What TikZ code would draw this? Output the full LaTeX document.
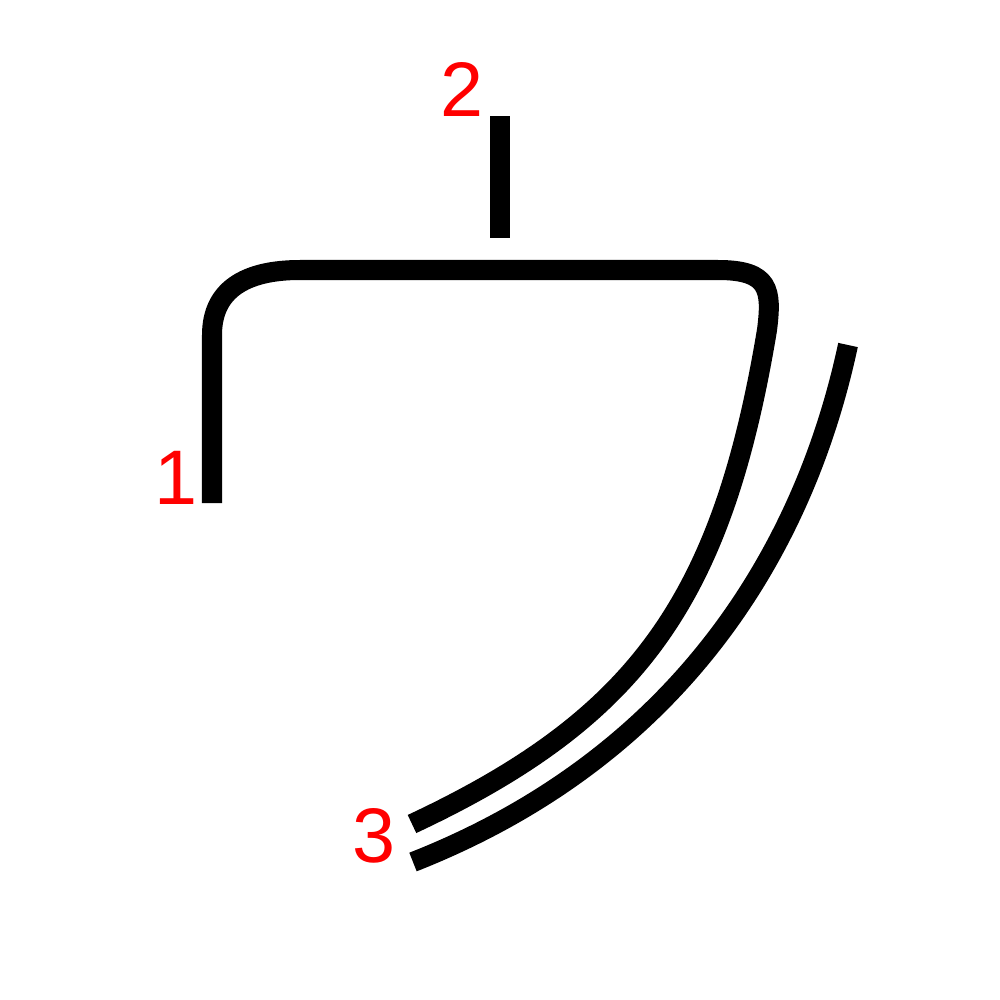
\documentclass[tikz,border=0pt]{standalone}
\usepackage{fontspec}
\setmainfont{Liberation Sans}
\begin{document}
\begin{tikzpicture}[x=0.01cm,y=-0.01cm,
  strokeline/.style={draw=black,line width=0.2cm,line cap=butt,line join=round},
  numlabel/.style={text=red,font=\fontsize{22}{22}\selectfont,inner sep=0pt}]
\useasboundingbox[fill=white] (0,0) rectangle (1000,1000);
% stroke 1
\draw[strokeline] (212,503) -- (212,335)
  .. controls (212,290) and (245,270) .. (300,270)
  -- (718,270)
  .. controls (770,270) and (772,290) .. (767,330)
  .. controls (722,600) and (638,718) .. (412,824);
% stroke 2
\draw[strokeline] (500,116) -- (500,238);
% stroke 3
\draw[strokeline] (848,345) .. controls (802,560) and (672,760) .. (413,862);
% labels
\node[numlabel] (n1) at (176,478) {1};
\node[numlabel] (n2) at (462,89) {2};
\node[numlabel] (n3) at (374,836) {3};
\end{tikzpicture}
\end{document}
